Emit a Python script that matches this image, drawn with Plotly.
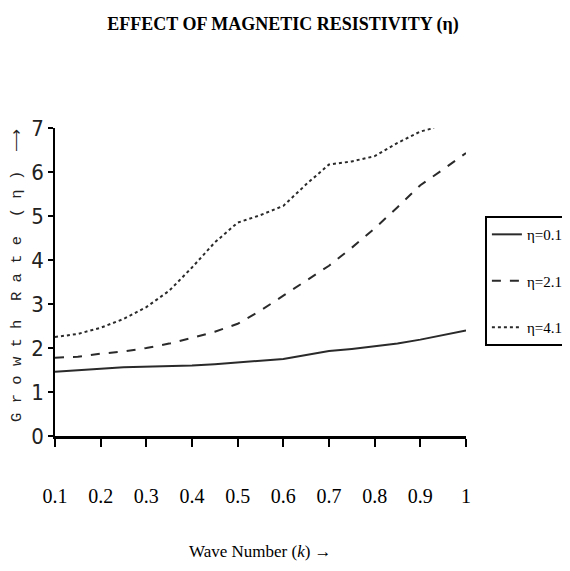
import plotly.graph_objects as go

k_vals = [0.1, 0.15, 0.2, 0.25, 0.3, 0.35, 0.4, 0.45, 0.5, 0.55, 0.6, 0.65, 0.7, 0.75, 0.8, 0.85, 0.9, 0.95, 1.0]
eta_01 = [1.46, 1.50, 1.53, 1.56, 1.57, 1.58, 1.60, 1.63, 1.67, 1.71, 1.75, 1.84, 1.93, 1.98, 2.04, 2.10, 2.19, 2.29, 2.40]
eta_21 = [1.78, 1.80, 1.87, 1.92, 2.00, 2.10, 2.23, 2.37, 2.55, 2.85, 3.19, 3.53, 3.87, 4.28, 4.72, 5.20, 5.70, 6.06, 6.43]
k_dot = [0.1, 0.15, 0.2, 0.25, 0.3, 0.35, 0.4, 0.45, 0.5, 0.55, 0.6, 0.65, 0.7, 0.75, 0.8, 0.85, 0.9, 0.93]
eta_41 = [2.25, 2.32, 2.46, 2.66, 2.93, 3.30, 3.83, 4.40, 4.85, 5.02, 5.23, 5.72, 6.17, 6.24, 6.36, 6.66, 6.92, 7.00]
x_ticks = [0.1, 0.2, 0.3, 0.4, 0.5, 0.6, 0.7, 0.8, 0.9, 1.0]
x_tick_labels = ["0.1", "0.2", "0.3", "0.4", "0.5", "0.6", "0.7", "0.8", "0.9", "1"]
y_ticks = [0, 1, 2, 3, 4, 5, 6, 7]

line_col = "#2a2a2a"
fig = go.Figure()
fig.add_trace(go.Scatter(x=k_vals, y=eta_01, mode="lines", name="η=0.1", legendgroup="a",
                         line=dict(color=line_col, width=2, dash="solid")))
fig.add_trace(go.Scatter(x=k_vals, y=eta_21, mode="lines", name="η=2.1", legendgroup="b",
                         line=dict(color=line_col, width=2, dash="dash")))
fig.add_trace(go.Scatter(x=k_dot, y=eta_41, mode="lines", name="η=4.1", legendgroup="c",
                         line=dict(color=line_col, width=2, dash="dot")))

fig.update_layout(
    width=570, height=571,
    margin=dict(l=47, r=112, t=120, b=143, autoexpand=False),
    paper_bgcolor="white", plot_bgcolor="white",
    title=dict(text="<b>EFFECT OF MAGNETIC RESISTIVITY (η)</b>",
               font=dict(family="Liberation Serif", size=18, color="black"),
               x=0.4825, xanchor="center", xref="container", y=1 - 16 / 571, yref="container", yanchor="middle"),
    xaxis=dict(range=[0.1, 1.0], tickvals=x_ticks, ticktext=x_tick_labels,
               showline=True, linecolor="black", linewidth=2.5, mirror=False,
               ticks="outside", ticklen=8, tickwidth=1.5, tickcolor="black",
               showgrid=False, zeroline=False, ticklabelstandoff=32, automargin=False,
               tickfont=dict(family="Liberation Serif", size=20, color="black")),
    yaxis=dict(range=[0, 7], tickvals=y_ticks,
               showline=True, linecolor="black", linewidth=1.5,
               ticks="outside", ticklen=5, tickwidth=1.5, tickcolor="black",
               showgrid=False, zeroline=False, automargin=False,
               tickfont=dict(family="DejaVu Sans Condensed, DejaVu Sans", size=22, color="#222")),
    legend=dict(x=1.046, y=0.714, xanchor="left", yanchor="top",
                bordercolor="black", borderwidth=2, bgcolor="white",
                tracegroupgap=24, itemwidth=30,
                font=dict(family="Liberation Serif", size=15, color="black")),
    showlegend=True,
    annotations=[
        dict(text="G r o w t h  R a t e  ( η )  ⟶", xref="paper", yref="paper",
             x=-0.0925, y=0.523, xanchor="center", yanchor="middle", textangle=-90, showarrow=False,
             font=dict(family="Liberation Mono", size=15.5, color="#222")),
        dict(text="Wave Number (<i>k</i>) →", xref="paper", yref="paper",
             x=0.5, y=-0.3766, xanchor="center", yanchor="middle", showarrow=False,
             font=dict(family="Liberation Serif", size=17, color="black")),
    ],
)

fig.write_html("out.html")
